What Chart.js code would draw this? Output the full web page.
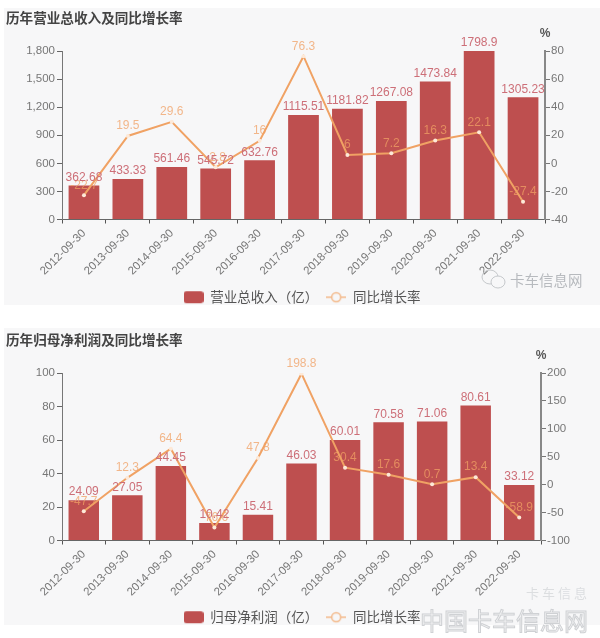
<!DOCTYPE html>
<html>
<head>
<meta charset="utf-8">
<script src="https://cdn.jsdelivr.net/npm/chart.js@4"></script>
<style>
  body { margin: 0; background: #fff; font-family: "Liberation Sans", "Noto Sans CJK SC", sans-serif; }
  #page { position: relative; width: 600px; height: 638px; overflow: hidden; }
  .panel { position: absolute; left: 4px; width: 596px; height: 297px; background: #f7f7f8; }
  .panel canvas { filter: blur(0.4px); }
  .title { position: absolute; left: 6px; z-index: 2; font: bold 13.6px/18px "Noto Sans CJK SC", sans-serif; color: #444; filter: blur(0.3px); }
  .mark { position: absolute; z-index: 2; color: #b7babe; white-space: nowrap; filter: blur(0.4px); }
</style>
</head>
<body>
<div id="page">
  <div class="title" style="top:8px">历年营业总收入及同比增长率</div>
  <div class="panel" style="top:8px"><canvas id="revenueChart" width="596" height="297"></canvas></div>
  <div class="title" style="top:330px">历年归母净利润及同比增长率</div>
  <div class="panel" style="top:328px"><canvas id="profitChart" width="596" height="297"></canvas></div>
  <svg class="mark" style="left:480px;top:268px" width="28" height="22" fill="none" stroke="#c4c7ca" stroke-width="1">
    <ellipse cx="10" cy="9" rx="8" ry="7"/><ellipse cx="18" cy="14" rx="7" ry="6" fill="#f7f7f8"/>
  </svg>
  <div class="mark" style="left:510px;top:269px;font:14.5px/22px 'Noto Sans CJK SC'">卡车信息网</div>
  <div class="mark" style="left:526px;top:585px;font:13px/16px 'Noto Sans CJK SC';color:#dcdee0;letter-spacing:3px">卡车信息</div>
  <div class="mark" style="left:420px;top:604px;font:24px/32px 'Noto Sans CJK SC';color:#f4f4f5;-webkit-text-stroke:1px #cfd1d4">中国卡车信息网</div>
</div>
<script>
const years = ['2012-09-30', '2013-09-30', '2014-09-30', '2015-09-30', '2016-09-30', '2017-09-30',
  '2018-09-30', '2019-09-30', '2020-09-30', '2021-09-30', '2022-09-30'];

const revenue = [362.68, 433.33, 561.46, 545.72, 632.76, 1115.51, 1181.82, 1267.08, 1473.84, 1798.9, 1305.23];
const revenueGrowth = [-22.7, 19.5, 29.6, -2.8, 16, 76.3, 6, 7.2, 16.3, 22.1, -27.4];

const profit = [24.09, 27.05, 44.45, 10.42, 15.41, 46.03, 60.01, 70.58, 71.06, 80.61, 33.12];
const profitGrowth = [-47.7, 12.3, 64.4, -76.6, 47.8, 198.8, 30.4, 17.6, 0.7, 13.4, -58.9];

const BAR_COLOR = '#be4f4f';
const LINE_COLOR = '#f0a264';
const TICK_COLOR = '#777';

// legend icons, chart.js has no line + circle style or wide rounded box
const makeIcon = (paint) => {
  const c = document.createElement('canvas');
  c.width = 20;
  c.height = 14;
  paint(c.getContext('2d'));
  return c;
};
const barIcon = makeIcon((ic) => {
  ic.fillStyle = BAR_COLOR;
  ic.beginPath();
  ic.roundRect(0, 1, 20, 12, 3);
  ic.fill();
});
const lineIcon = makeIcon((ic) => {
  ic.strokeStyle = '#f3b98a';
  ic.lineWidth = 1.5;
  ic.beginPath();
  ic.moveTo(0, 7);
  ic.lineTo(20, 7);
  ic.stroke();
  ic.beginPath();
  ic.arc(10, 7, 4.5, 0, Math.PI * 2);
  ic.fillStyle = '#f7f7f8';
  ic.fill();
  ic.stroke();
});

// value labels over bars and points, and the % mark on the right axis
const labelPlugin = {
  id: 'valueLabels',
  afterDatasetsDraw(chart) {
    const ctx = chart.ctx;
    ctx.save();
    ctx.font = '12px "Liberation Sans"';
    ctx.textAlign = 'center';
    ctx.textBaseline = 'bottom';
    chart.data.datasets.forEach((ds, i) => {
      ctx.fillStyle = ds.type === 'line' ? 'rgba(240, 160, 100, 0.75)' : '#cd6f78';
      const gap = ds.type === 'line' ? 4 : 2;
      chart.getDatasetMeta(i).data.forEach((el, j) => {
        ctx.fillText(String(ds.data[j]), el.x, el.y - gap);
      });
    });
    const right = chart.scales.y1;
    ctx.font = 'bold 12px "Liberation Sans"';
    ctx.fillStyle = '#555';
    ctx.fillText('%', right.left, chart.chartArea.top - 11);
    ctx.restore();
  },
};

const makeChart = (id, barName, bars, growth, leftOpts, rightOpts, box) => {
  new Chart(document.getElementById(id), {
    type: 'bar',
    data: {
      labels: years,
      datasets: [
        { type: 'line', label: '同比增长率', data: growth, yAxisID: 'y1', order: 1,
          borderColor: LINE_COLOR, borderWidth: 2, tension: 0,
          pointRadius: 2, pointBackgroundColor: '#fde9d8', pointBorderColor: '#fde9d8', pointBorderWidth: 0 },
        { type: 'bar', label: barName, data: bars, yAxisID: 'y', order: 2,
          backgroundColor: BAR_COLOR, barPercentage: 0.7, categoryPercentage: 1 },
      ],
    },
    options: {
      responsive: false,
      animation: false,
      layout: { padding: { top: box.top, bottom: -9 } },
      plugins: {
        tooltip: { enabled: false },
        legend: {
          position: 'bottom',
          reverse: true,
          labels: {
            usePointStyle: true,
            pointStyleWidth: 20,
            padding: 8,
            color: '#555',
            font: { size: 13.5, family: '"Noto Sans CJK SC"' },
            generateLabels: (chart) => chart.data.datasets.map((ds, i) => ({
              text: ds.label,
              fontColor: '#555',
              fillStyle: BAR_COLOR,
              strokeStyle: BAR_COLOR,
              lineWidth: 0,
              pointStyle: ds.type === 'line' ? lineIcon : barIcon,
              datasetIndex: i,
            })),
          },
        },
      },
      scales: {
        x: {
          offset: true,
          grid: { display: true, drawOnChartArea: false, offset: true, color: '#555', tickLength: 4 },
          border: { color: '#666' },
          ticks: { color: TICK_COLOR, font: { size: 11.5 }, minRotation: 45, maxRotation: 45, autoSkip: false, padding: 3 },
          afterFit: (s) => { s.height = box.xHeight; },
        },
        y: {
          position: 'left',
          min: leftOpts.min, max: leftOpts.max,
          grid: { drawOnChartArea: false, color: '#666', tickLength: 5 },
          border: { color: '#777' },
          ticks: { color: TICK_COLOR, font: { size: 11.5 }, stepSize: leftOpts.step, padding: 2 },
          afterFit: (s) => { s.width = 58; },
        },
        y1: {
          position: 'right',
          min: rightOpts.min, max: rightOpts.max,
          grid: { drawOnChartArea: false, color: '#777', tickLength: 5 },
          border: { color: '#888', width: 2 },
          ticks: { color: TICK_COLOR, font: { size: 11.5 }, stepSize: rightOpts.step, padding: 1 },
          afterFit: (s) => { s.width = 596 - box.right; },
        },
      },
    },
    plugins: [labelPlugin],
  });
};

makeChart('revenueChart', '营业总收入（亿）', revenue, revenueGrowth,
  { min: 0, max: 1800, step: 300 }, { min: -40, max: 80, step: 20 }, { top: 43, xHeight: 63, right: 541 });
makeChart('profitChart', '归母净利润（亿）', profit, profitGrowth,
  { min: 0, max: 100, step: 20 }, { min: -100, max: 200, step: 50 }, { top: 45, xHeight: 62, right: 537 });
</script>
</body>
</html>
